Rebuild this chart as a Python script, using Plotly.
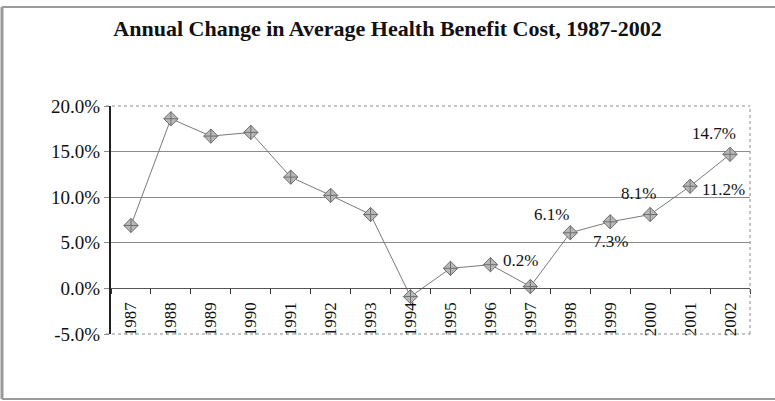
import plotly.graph_objects as go

years = ["1987", "1988", "1989", "1990", "1991", "1992", "1993", "1994",
         "1995", "1996", "1997", "1998", "1999", "2000", "2001", "2002"]
change_pct = [6.9, 18.6, 16.7, 17.1, 12.2, 10.2, 8.1, -0.9,
              2.2, 2.6, 0.2, 6.1, 7.3, 8.1, 11.2, 14.7]

y_tick_vals = [-5, 0, 5, 10, 15, 20]
y_tick_text = ["-5.0%", "0.0%", "5.0%", "10.0%", "15.0%", "20.0%"]

# labelled points
label_years = ["1997", "1998", "1999", "2000", "2001", "2002"]
label_vals = [0.2, 6.1, 7.3, 8.1, 11.2, 14.7]
label_text = ["0.2%", "6.1%", "7.3%", "8.1%", "11.2%", "14.7%"]
label_dx = [-10, -19, 0, -12, 33, -16]
label_dy = [26, 18, -20, 21, -3, 21]

FONT = "Liberation Serif, Times New Roman, serif"

fig = go.Figure()
fig.add_trace(go.Scatter(
    x=years, y=change_pct, mode="lines+markers",
    line=dict(color="#7a7a7a", width=1),
    marker=dict(symbol="diamond-cross", size=11, color="#b8b8b8",
                line=dict(color="#6e6e6e", width=1)),
    showlegend=False, hoverinfo="x+y",
))

for yr, v, t, dx, dy in zip(label_years, label_vals, label_text, label_dx, label_dy):
    fig.add_annotation(x=years.index(yr), y=v, xref="x", yref="y", text=t,
                       showarrow=False, xshift=dx, yshift=dy,
                       font=dict(family=FONT, size=17, color="#111"))

W, H = 775, 401
L, R, T, B = 111, 25, 106, 67
pw, ph = W - L - R, H - T - B

def px(x):
    return (x - L) / pw

def py(y):
    return (H - B - y) / ph

border = "#9a9a9a"
shapes = [
    # outer chart border (left, top, bottom)
    dict(type="line", xref="paper", yref="paper", x0=px(2), x1=px(2), y0=py(399), y1=py(7),
         line=dict(color=border, width=3)),
    dict(type="line", xref="paper", yref="paper", x0=px(2), x1=px(775), y0=py(7), y1=py(7),
         line=dict(color=border, width=2)),
    dict(type="line", xref="paper", yref="paper", x0=px(2), x1=px(775), y0=py(399), y1=py(399),
         line=dict(color=border, width=2)),
    # plot area border: right, top, bottom (dotted)
    dict(type="line", xref="paper", yref="paper", x0=1, x1=1, y0=0, y1=1,
         line=dict(color="#8a8a8a", width=1, dash="dot")),
    dict(type="line", xref="paper", yref="paper", x0=px(106), x1=1, y0=1, y1=1,
         line=dict(color="#8a8a8a", width=1, dash="dot")),
    dict(type="line", xref="paper", yref="paper", x0=px(106), x1=1, y0=0, y1=0,
         line=dict(color="#8a8a8a", width=1, dash="dot")),
]

fig.update_layout(
    width=W, height=H,
    margin=dict(l=L, r=R, t=T, b=B),
    paper_bgcolor="white", plot_bgcolor="white",
    title=dict(text="<b>Annual Change in Average Health Benefit Cost, 1987-2002</b>",
               x=0.5, xanchor="center", y=1 - 28 / H, yanchor="middle", yref="container",
               font=dict(family=FONT, size=22, color="#111")),
    xaxis=dict(type="category", range=[-0.5, 15.5], anchor="free", position=0.2,
               showline=True, linecolor="#555", linewidth=1,
               ticks="outside", ticklen=5, tickcolor="#333", tickson="boundaries",
               tickangle=-90, showgrid=False, zeroline=False,
               tickfont=dict(family=FONT, size=17, color="#111"),
               ticklabelstandoff=6),
    yaxis=dict(range=[-5, 20], tickvals=y_tick_vals, ticktext=y_tick_text,
               showgrid=True, gridcolor="#8c8c8c", gridwidth=1,
               showline=True, linecolor="#222", linewidth=2,
               ticks="outside", ticklen=5, tickcolor="#8c8c8c",
               zeroline=False,
               tickfont=dict(family=FONT, size=19, color="#111")),
    shapes=shapes,
)

fig.write_html("out.html")
